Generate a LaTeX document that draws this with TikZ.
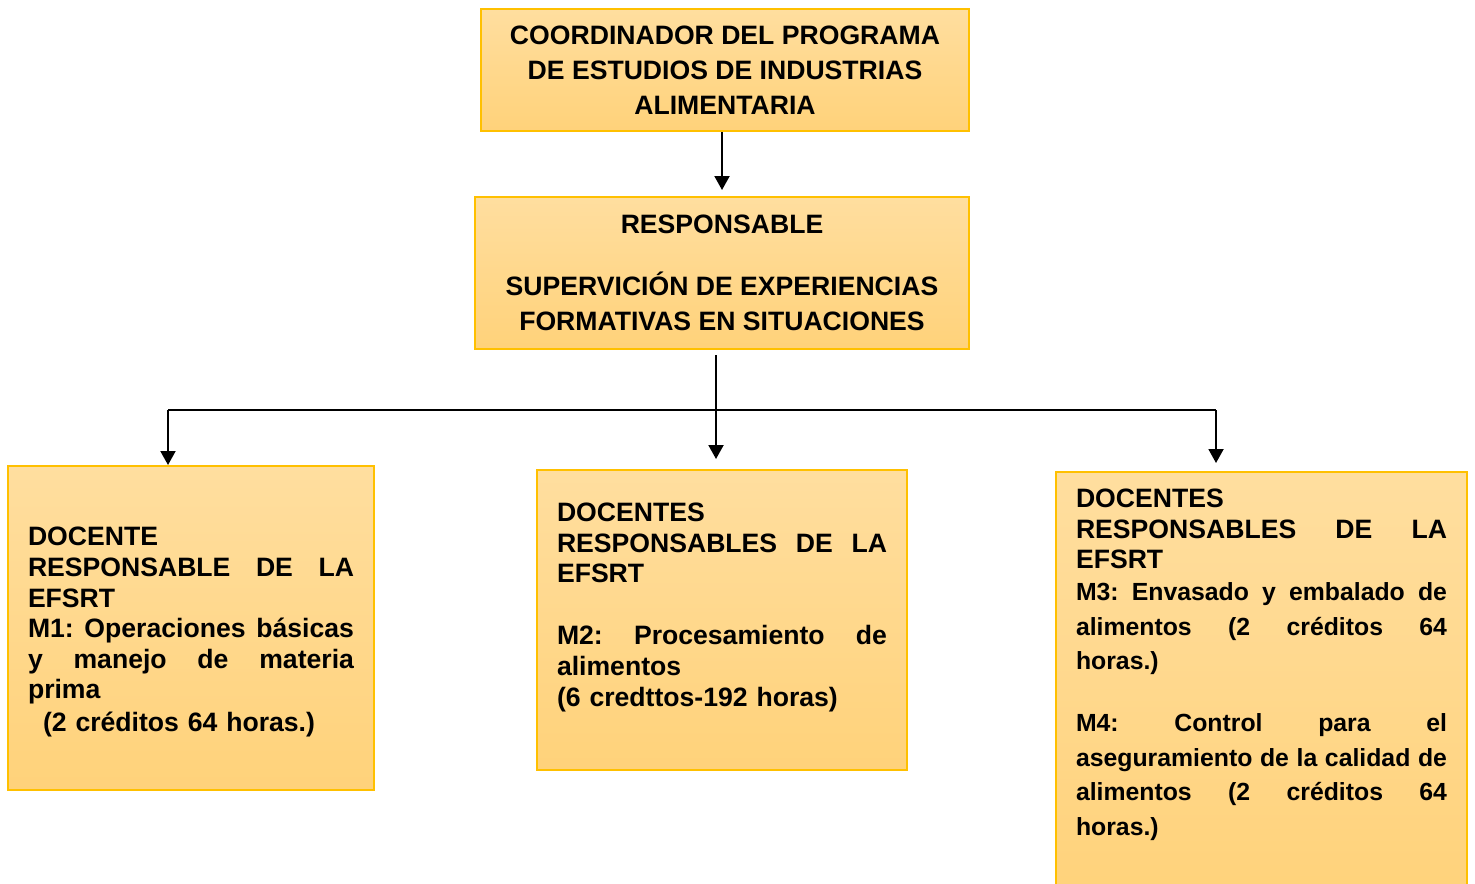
\documentclass[tikz,border=0pt]{standalone}
\usepackage{fontspec}
\setmainfont{Liberation Sans}
\usepackage{xcolor}
\usepackage{tikz}
\usetikzlibrary{arrows.meta, positioning}

\definecolor{boxtop}{RGB}{255,222,159}
\definecolor{boxbot}{RGB}{255,210,122}
\definecolor{boxline}{RGB}{255,192,0}

\begin{document}
\begin{tikzpicture}[
  box/.style={rectangle, draw=boxline, line width=1pt, top color=boxtop, bottom color=boxbot, font=\fontsize{13.3}{15.3}\selectfont\bfseries},
  headbox/.style={box, align=center, font=\fontsize{13.3}{17.5}\selectfont\bfseries},
  modbox/.style={box, align=left},
  line/.style={line width=0.9pt},
  arrow/.style={->, line width=1pt, >={Triangle[width=7.5pt,length=7pt]}}
]
\useasboundingbox (0,0) rectangle (737.5pt,-441.5pt);

% Coordination
\node[headbox, minimum width=244pt, minimum height=61pt] (coord) at (362.5pt,-35pt)
  {COORDINADOR DEL PROGRAMA\\DE ESTUDIOS DE INDUSTRIAS\\ALIMENTARIA};
\node[headbox, minimum width=247pt, minimum height=76pt, below=32pt of coord, xshift=-1.5pt] (resp)
  {RESPONSABLE\\[13.5pt]SUPERVICIÓN DE EXPERIENCIAS\\FORMATIVAS EN SITUACIONES};

\draw[arrow, shorten >=3pt] (resp.north |- coord.south) -- (resp.north);

% Module teachers
\node[modbox, text width=165pt, minimum width=185pt, minimum height=150pt, below=59.5pt of resp] (m2)
  {DOCENTES\\
   RESPONSABLES\hfill DE\hfill LA\\
   EFSRT\\[15.7pt]
   M2:\hfill Procesamiento\hfill de\\
   alimentos\\
   (6 credttos-192 horas)\\\mbox{}};
\node[modbox, text width=163pt, minimum width=183pt, minimum height=162pt, left=80.5pt of m2, yshift=-4pt] (m1)
  {\rule{0pt}{13.6pt}DOCENTE\\
   RESPONSABLE\hfill DE\hfill LA\\
   EFSRT\\
   M1:\hfill Operaciones\hfill básicas\\
   y\hfill manejo\hfill de\hfill materia\\
   prima\\[1.2pt]
   \hspace*{7.5pt}(2 créditos 64 horas.)};
\node[modbox, text width=185.5pt, minimum width=205.5pt, minimum height=216.5pt, right=73.5pt of m2, yshift=-34.25pt] (m3)
  {DOCENTES\\
   RESPONSABLES\hfill DE\hfill LA\\
   EFSRT\\[-1.25pt]
   \fontsize{12.4}{17.25}\selectfont
   M3:\hfill Envasado\hfill y\hfill embalado\hfill de\\
   alimentos\hfill (2\hfill créditos\hfill 64\\
   horas.)\\[13.75pt]
   M4:\hfill Control\hfill para\hfill el\\
   aseguramiento\hfill de\hfill la\hfill calidad\hfill de\\
   alimentos\hfill (2\hfill créditos\hfill 64\\
   horas.)\\[11pt]\mbox{}};

% Branches
\coordinate[below=30pt of resp] (bus);
\coordinate (lbend) at ([xshift=-11.5pt]m1.north |- bus);
\coordinate (rbend) at ([xshift=-22.75pt]m3.north |- bus);

\draw[line] (lbend) -- (rbend);
\draw[arrow, shorten <=2.5pt, shorten >=5pt] ([xshift=-3pt]resp.south) -- ([xshift=-3pt]resp.south |- m2.north);
\draw[arrow] (lbend) -- (lbend |- m1.north);
\draw[arrow, shorten >=4pt] (rbend) -- (rbend |- m3.north);

\end{tikzpicture}
\end{document}
